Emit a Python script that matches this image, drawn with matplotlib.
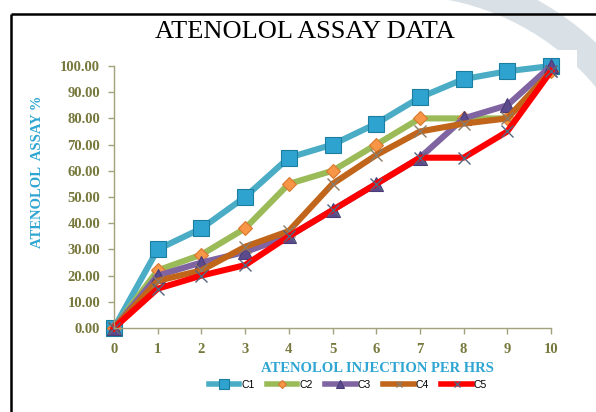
import matplotlib
matplotlib.use("Agg")
import matplotlib.pyplot as plt
from matplotlib.patches import Arc, Rectangle
from matplotlib.lines import Line2D

# assay readings per hour
hours = list(range(11))
c1 = [0, 30, 38, 50, 65, 70, 78, 88, 95, 98, 100]
c2 = [0, 22, 28, 38, 55, 60, 70, 80, 80, 80, 98]
c3 = [0, 20, 25, 29, 35, 45, 55, 65, 80, 85, 100]
c4 = [0, 18, 22, 31, 37, 55, 66, 75, 78, 80, 98]
c5 = [0, 15, 20, 24, 35, 45, 55, 65, 65, 75, 98]
series_names = ["C1", "C2", "C3", "C4", "C5"]

TITLE = "ATENOLOL ASSAY DATA"
XLABEL = "ATENOLOL INJECTION PER HRS"
YLABEL = "ATENOLOL  ASSAY %"

OLIVE = "#77783c"
BLUE = "#2ea5d2"
AXIS = "#a3a27c"

STYLES = [
    dict(color="#4bacc6", marker="s", ms=11, mfc="#2fa3d0", mec="#1c7e9e", mew=0.8),
    dict(color="#9bbb59", marker="D", ms=7.5, mfc="#f79646", mec="#d9782f", mew=0.8),
    dict(color="#8064a2", marker="^", ms=9.5, mfc="#5b4a8c", mec="#4a3c78", mew=0.8),
    dict(color="#c0651a", marker="x", ms=8, mfc="none", mec="#8c7a66", mew=1.0),
    dict(color="#ff0000", marker="x", ms=8, mfc="none", mec="#55657f", mew=1.0),
]

W, H = 596, 412
fig = plt.figure(figsize=(W / 100, H / 100), dpi=100)
fig.patch.set_facecolor("white")

# page decoration: pale swoosh, white chart area, black border
bg = fig.add_axes([0, 0, 1, 1], zorder=0)
bg.set_xlim(0, W)
bg.set_ylim(H, 0)
bg.axis("off")
bg.add_patch(Arc((400, 250), 540, 540, theta1=270, theta2=360,
                 color="#d9e1e7", lw=22))
bg.add_patch(Rectangle((20, 50), 557, 362, facecolor="white", edgecolor="none"))
bg.plot([11, W + 5], [14, 14], color="black", lw=1.8, solid_capstyle="butt")
bg.plot([11, 11], [14, H + 5], color="black", lw=1.8, solid_capstyle="butt")

ax = fig.add_axes([114 / W, 1 - 328 / H, 437 / W, 262 / H], zorder=1)
ax.patch.set_alpha(0)

for name, values, st in zip(series_names, [c1, c2, c3, c4, c5], STYLES):
    ax.plot(hours, values, lw=4.4, color=st["color"], marker=st["marker"],
            markersize=st["ms"], markerfacecolor=st["mfc"],
            markeredgecolor=st["mec"], markeredgewidth=st["mew"],
            solid_joinstyle="round", clip_on=False, label=name)

ax.set_xlim(0, 10)
ax.set_ylim(0, 100)
ax.set_xticks(hours)
ax.set_yticks(range(0, 101, 10))
ax.set_yticklabels([f"{v:.2f}" for v in range(0, 101, 10)])
for side in ("top", "right"):
    ax.spines[side].set_visible(False)
for side in ("left", "bottom"):
    ax.spines[side].set_color(AXIS)
    ax.spines[side].set_linewidth(1.0)
ax.tick_params(axis="both", colors=AXIS, length=4, width=1.0, direction="out")
ax.tick_params(axis="y", pad=6)
ax.tick_params(axis="x", pad=7)
for lbl in ax.get_xticklabels() + ax.get_yticklabels():
    lbl.set_family("Liberation Serif")
    lbl.set_fontweight("bold")
    lbl.set_fontsize(10.5)
    lbl.set_color(OLIVE)

ax.set_xlabel(XLABEL, family="Liberation Serif", fontweight="bold",
              fontsize=10.5, color=BLUE)
ax.set_ylabel(YLABEL, family="Liberation Serif", fontweight="bold",
              fontsize=10.5, color=BLUE)
ax.xaxis.set_label_coords(0.602, -0.13)
ax.yaxis.set_label_coords(-0.16, 0.595)

fig.text(305 / W, 1 - 32 / H, TITLE, family="Liberation Serif", fontsize=19,
         color="black", ha="center", va="center")

handles = [Line2D([], [], lw=4, color=st["color"], marker=st["marker"],
                  markersize=st["ms"] * 0.6, markerfacecolor=st["mfc"],
                  markeredgecolor=st["mec"], markeredgewidth=st["mew"])
           for st in STYLES]
fig.legend(handles, series_names, loc="center", ncol=5,
           bbox_to_anchor=(348 / W, 1 - 385 / H), frameon=False,
           prop={"family": "Liberation Sans", "size": 7.5},
           handlelength=2.9, handletextpad=0.2, columnspacing=1.2)

fig.savefig("out.png", dpi=100)
